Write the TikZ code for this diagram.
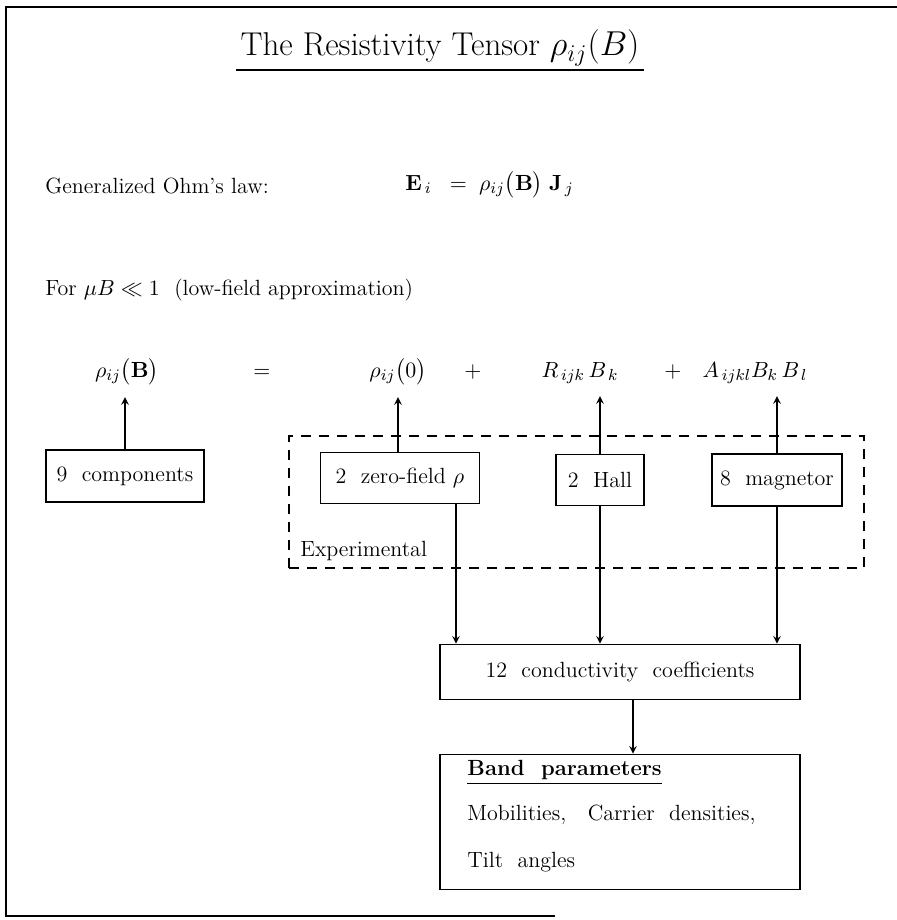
\documentclass[tikz,border=0pt]{standalone}
\usepackage{amsmath}
\usepackage{amssymb}
\usetikzlibrary{positioning}

\begin{document}
\begin{tikzpicture}[x=0.5pt, y=-0.5pt, >=stealth,
  box/.style={draw, line width=0.8pt, inner sep=0pt},
  term/.style={inner sep=6pt, anchor=base},
  txt/.style={inner sep=0pt, anchor=base west}]
\tikzset{every node/.append style={font=\fontsize{11}{13}\selectfont}}
\useasboundingbox (0,0) rectangle (897,920);

% frame (open at the right)
\draw[line width=1pt] (897,7) -- (6,7) -- (6,916) -- (555,916);

% title
\node[anchor=base, inner sep=2pt, font=\fontsize{16.5}{19}\selectfont] (title) at (440,56) {The Resistivity Tensor $\rho_{ij}(B)$};
\draw[line width=1.2pt] (title.south west) -- (title.south east);

\node[txt] (ohm) at (45,193) {Generalized Ohm's law:};
\node[txt] (ohmeq) at (405,190) {$\mathbf{E}_{\,i}\;\;=\;\rho_{ij}\bigl(\mathbf{B}\bigr)\;\mathbf{J}_{\,j}$};
\node[txt] (low) at (45,295) {For $\mu B \ll 1$\ \ (low-field approximation)};

% equation row
\node[term] (rhoB) at (127,377) {$\rho_{ij}\bigl(\mathbf{B}\bigr)$};
\node[term] (eq) at (262,377) {$=$};
\node[term] (rho0) at (398,377) {$\rho_{ij}\bigl(0\bigr)$};
\node[term] (plusa) at (473,377) {$+$};
\node[term] (hallterm) at (580,377) {$R_{\,ijk}\,B_{\,k}$};
\node[term] (plusb) at (673,377) {$+$};
\node[term] (magterm) at (755,377) {$A_{\,ijkl}B_{k}\,B_{\,l}$};

% boxes
\node[draw, dashed, dash pattern=on 5pt off 4pt, line width=0.8pt, minimum width=287.5pt, minimum height=66pt] (exp) at (576.5,502) {};
\node[txt] (explabel) at (300,556) {Experimental};
\node[box, minimum width=79pt, minimum height=26pt] (nine) at (125,476) {9\ \ components};
\node[box, minimum width=79.5pt, minimum height=25.5pt] (zero) at (400,478) {2\ \ zero-field $\rho$};
\node[box, minimum width=44pt, minimum height=25.5pt] (hall) at (600,480) {2\ \ Hall};
\node[box, minimum width=65pt, minimum height=26pt] (magn) at (777,480) {8\ \ magnetor};
\node[box, minimum width=180pt, minimum height=27.5pt] (cond) at (620,672) {12\ \ conductivity\ \ coefficients};
\node[box, minimum width=180pt, minimum height=67.5pt] (band) at (620,822) {};

\node[txt] (bandtitle) at (467,775) {\bfseries Band\ \ parameters};
\draw[line width=0.8pt] ([yshift=-2pt]bandtitle.south west) -- ([yshift=-2pt]bandtitle.south east);
\node[txt] (mob) at (467,820) {Mobilities,\ \ \ Carrier\ \ densities,};
\node[txt] (tilt) at (467,867) {Tilt\ \ angles};

% up to the terms
\draw[->, line width=0.7pt] (nine.north) -- (nine.north |- rhoB.south);
\draw[->, line width=0.7pt] (zero.north -| rho0) -- (rho0.south);
\draw[->, line width=0.7pt] (hall.north) -- (hall.north |- hallterm.south);
\draw[->, line width=0.7pt] (magn.north) -- (magn.north |- magterm.south);

% down to the coefficients
\draw[->, line width=0.7pt] ([xshift=28pt]zero.south) -- ([xshift=28pt]zero.south |- cond.north);
\draw[->, line width=0.7pt] (hall.south) -- (hall.south |- cond.north);
\draw[->, line width=0.7pt] (magn.south) -- (magn.south |- cond.north);
\draw[->, line width=0.7pt] ([xshift=6.5pt]cond.south) -- ([xshift=6.5pt]cond.south |- band.north);
\end{tikzpicture}
\end{document}
